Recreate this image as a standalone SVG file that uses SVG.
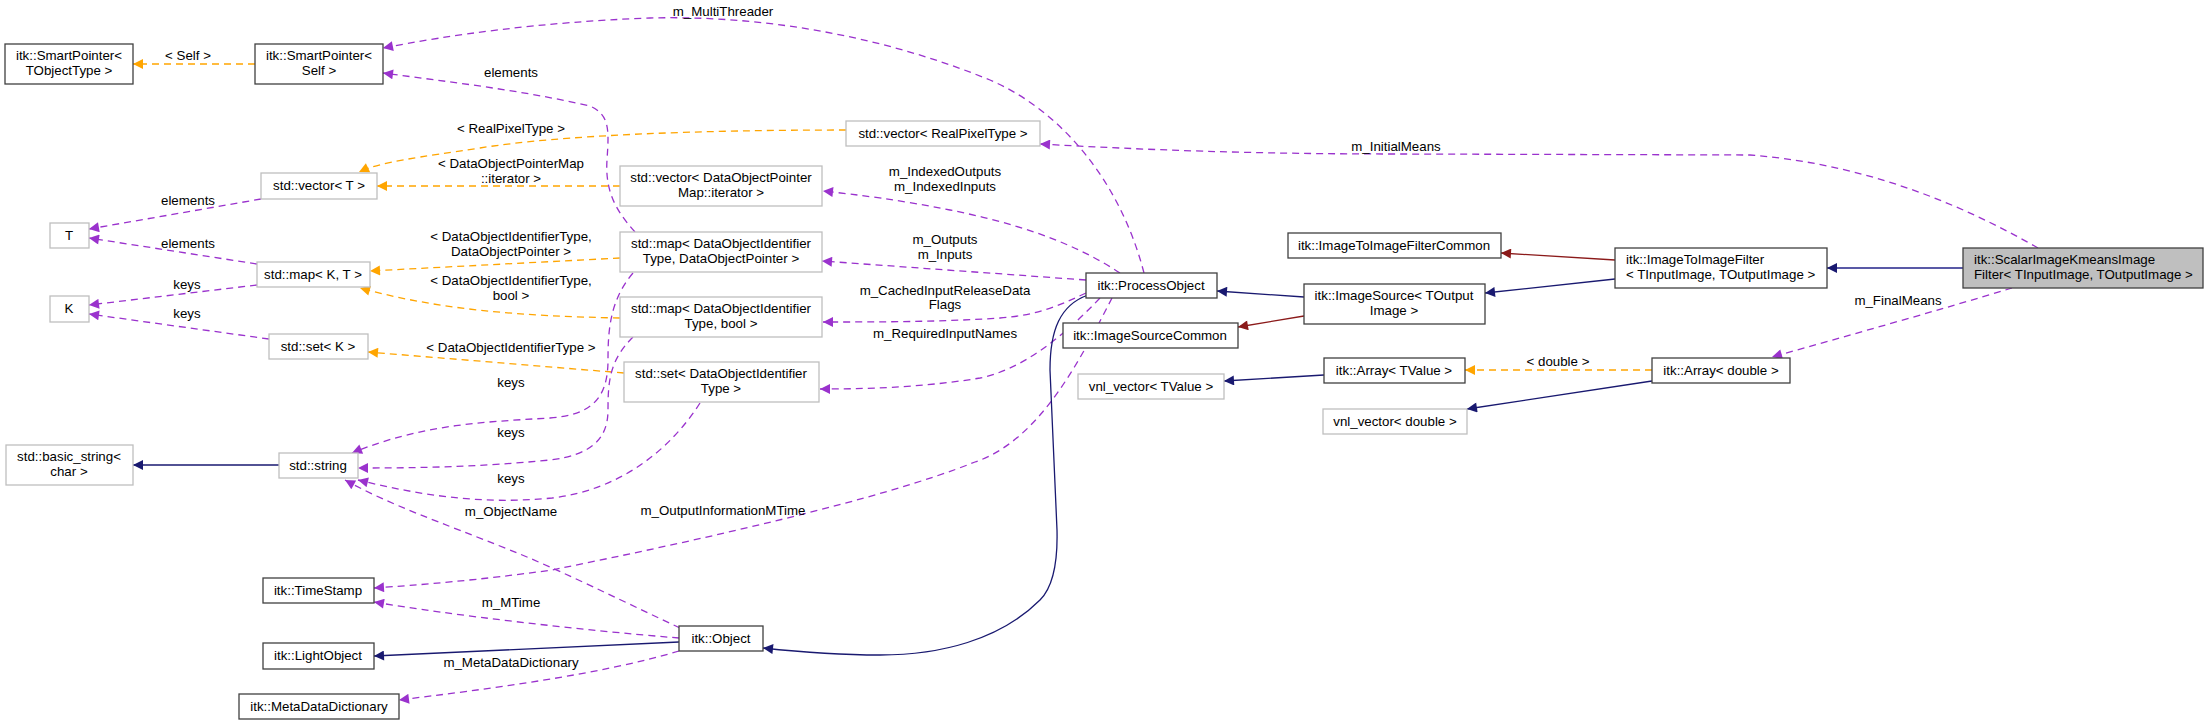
<svg xmlns="http://www.w3.org/2000/svg" width="2208" height="725" viewBox="0 0 2208 725">
<style>
text{font-family:"Liberation Sans",Arial,sans-serif;font-size:13.3px;fill:#000;text-anchor:middle}
.b{fill:#fff;stroke:#404040;stroke-width:1.3}
.g{fill:#fff;stroke:#bfbfbf;stroke-width:1.3}
.s{fill:#bfbfbf;stroke:#404040;stroke-width:1.3}
.p{fill:none;stroke:#9a32cd;stroke-width:1.3;stroke-dasharray:7,5;marker-end:url(#mp)}
.o{fill:none;stroke:#ffa500;stroke-width:1.3;stroke-dasharray:7,5;marker-end:url(#mo)}
.n{fill:none;stroke:#191970;stroke-width:1.3;marker-end:url(#mn)}
.r{fill:none;stroke:#8b1a1a;stroke-width:1.3;marker-end:url(#mr)}
</style>
<defs>
<marker id="mp" viewBox="0 0 10 10" refX="10" refY="5" markerWidth="13" markerHeight="10" markerUnits="userSpaceOnUse" orient="auto"><path d="M0,0L10,5L0,10z" fill="#9a32cd"/></marker>
<marker id="mo" viewBox="0 0 10 10" refX="10" refY="5" markerWidth="13" markerHeight="10" markerUnits="userSpaceOnUse" orient="auto"><path d="M0,0L10,5L0,10z" fill="#ffa500"/></marker>
<marker id="mn" viewBox="0 0 10 10" refX="10" refY="5" markerWidth="13" markerHeight="10" markerUnits="userSpaceOnUse" orient="auto"><path d="M0,0L10,5L0,10z" fill="#191970"/></marker>
<marker id="mr" viewBox="0 0 10 10" refX="10" refY="5" markerWidth="13" markerHeight="10" markerUnits="userSpaceOnUse" orient="auto"><path d="M0,0L10,5L0,10z" fill="#8b1a1a"/></marker>
</defs>
<rect width="2208" height="725" fill="#fff"/>
<g id="edges">
<path class="o" d="M255,64 L133,64"/><text x="188" y="60">&lt; Self &gt;</text>
<path class="p" d="M1144,273 C1120,180 1060,110 990,80 C880,35 760,15 650,18 C540,22 450,35 383,48"/><text x="723" y="16">m_MultiThreader</text>
<path class="p" d="M635,232 C615,210 605,190 607,160 C609,130 610,115 590,106 C520,90 450,82 383,73"/><text x="511" y="77">elements</text>
<path class="o" d="M846,130 C700,130 560,135 480,148 C420,157 380,162 359,172"/><text x="511" y="133">&lt; RealPixelType &gt;</text>
<path class="o" d="M620,186 L377,186"/><text x="511" y="168">&lt; DataObjectPointerMap</text><text x="511" y="183">::iterator &gt;</text>
<path class="p" d="M261,199 L89,229"/><text x="188" y="205">elements</text>
<path class="p" d="M257,264 L89,238"/><text x="188" y="248">elements</text>
<path class="p" d="M257,285 L89,305"/><text x="187" y="289">keys</text>
<path class="p" d="M269,339 L89,314"/><text x="187" y="318">keys</text>
<path class="o" d="M620,258 L370,271"/><text x="511" y="241">&lt; DataObjectIdentifierType,</text><text x="511" y="256">DataObjectPointer &gt;</text>
<path class="o" d="M620,318 C520,316 440,310 360,288"/><text x="511" y="285">&lt; DataObjectIdentifierType,</text><text x="511" y="300">bool &gt;</text>
<path class="o" d="M624,373 L368,352"/><text x="511" y="352">&lt; DataObjectIdentifierType &gt;</text>
<path class="p" d="M1120,273 C1070,240 1010,222 950,210 C900,200 860,195 823,191"/><text x="945" y="176">m_IndexedOutputs</text><text x="945" y="191">m_IndexedInputs</text>
<path class="p" d="M1086,280 L822,261"/><text x="945" y="244">m_Outputs</text><text x="945" y="259">m_Inputs</text>
<path class="p" d="M1086,293 C1060,305 1040,315 1000,318 C940,322 880,322 823,322"/><text x="945" y="295">m_CachedInputReleaseData</text><text x="945" y="309">Flags</text>
<path class="p" d="M1100,298 C1060,340 1020,370 980,378 C920,388 860,389 820,389"/><text x="945" y="338">m_RequiredInputNames</text>
<path class="p" d="M1112,298 C1080,360 1040,440 975,462 C880,500 700,540 552,570 C480,580 420,585 374,588"/><text x="723" y="515">m_OutputInformationMTime</text>
<path class="n" d="M1088,295 C1060,305 1050,330 1050,370 L1057,530 C1058,570 1050,590 1040,600 C1000,640 940,655 880,655 C840,655 800,652 763,648"/>
<path class="n" d="M279,465 L133,465"/>
<path class="p" d="M633,273 C610,300 608,330 608,360 C608,400 590,415 550,418 C480,422 420,425 352,453"/><text x="511" y="387">keys</text>
<path class="p" d="M633,337 C610,360 608,380 608,410 C608,440 590,455 550,460 C480,467 420,468 358,468"/><text x="511" y="437">keys</text>
<path class="p" d="M700,403 C670,450 620,490 552,498 C480,505 420,495 358,480"/><text x="511" y="483">keys</text>
<path class="p" d="M680,628 C620,600 560,570 510,550 C440,522 390,505 345,480"/><text x="511" y="516">m_ObjectName</text>
<path class="p" d="M679,638 C580,630 450,615 374,602"/><text x="511" y="607">m_MTime</text>
<path class="n" d="M679,642 L374,656"/>
<path class="p" d="M679,651 C600,675 480,690 399,700"/><text x="511" y="667">m_MetaDataDictionary</text>
<path class="n" d="M1304,297 L1217,291"/>
<path class="r" d="M1304,316 L1238,327"/>
<path class="r" d="M1615,260 L1501,253"/>
<path class="n" d="M1615,279 L1485,293"/>
<path class="n" d="M1963,268 L1827,268" style="stroke:#5959a6;stroke-width:2"/>
<path class="p" d="M2038,248 C1980,215 1880,165 1750,155 L1400,154 C1250,154 1150,150 1040,144"/><text x="1396" y="151">m_InitialMeans</text>
<path class="p" d="M2012,288 C1940,310 1850,335 1772,357"/><text x="1898" y="305">m_FinalMeans</text>
<path class="o" d="M1652,370 L1465,370"/><text x="1558" y="366">&lt; double &gt;</text>
<path class="n" d="M1324,375 L1224,381"/>
<path class="n" d="M1652,381 L1467,409"/>
</g>
<g id="n1"><rect class="b" x="5" y="44" width="128" height="40"/><text x="69" y="60">itk::SmartPointer&lt;</text><text x="69" y="75">TObjectType &gt;</text></g>
<g id="n2"><rect class="b" x="255" y="44" width="128" height="40"/><text x="319" y="60">itk::SmartPointer&lt;</text><text x="319" y="75">Self &gt;</text></g>
<g id="n3"><rect class="g" x="261" y="173" width="116" height="26"/><text x="319" y="190">std::vector&lt; T &gt;</text></g>
<g id="n4"><rect class="g" x="50" y="223" width="39" height="25"/><text x="69" y="240">T</text></g>
<g id="n5"><rect class="g" x="257" y="262" width="113" height="25"/><text x="313" y="279">std::map&lt; K, T &gt;</text></g>
<g id="n6"><rect class="g" x="50" y="296" width="39" height="26"/><text x="69" y="313">K</text></g>
<g id="n7"><rect class="g" x="269" y="334" width="99" height="25"/><text x="318" y="351">std::set&lt; K &gt;</text></g>
<g id="n8"><rect class="g" x="846" y="121" width="194" height="25"/><text x="943" y="138">std::vector&lt; RealPixelType &gt;</text></g>
<g id="n9"><rect class="g" x="620" y="166" width="202" height="40"/><text x="721" y="182">std::vector&lt; DataObjectPointer</text><text x="721" y="197">Map::iterator &gt;</text></g>
<g id="n10"><rect class="g" x="620" y="232" width="202" height="40"/><text x="721" y="248">std::map&lt; DataObjectIdentifier</text><text x="721" y="263">Type, DataObjectPointer &gt;</text></g>
<g id="n11"><rect class="g" x="620" y="297" width="202" height="40"/><text x="721" y="313">std::map&lt; DataObjectIdentifier</text><text x="721" y="328">Type, bool &gt;</text></g>
<g id="n12"><rect class="g" x="624" y="362" width="195" height="40"/><text x="721" y="378">std::set&lt; DataObjectIdentifier</text><text x="721" y="393">Type &gt;</text></g>
<g id="n13"><rect class="b" x="1086" y="273" width="131" height="25"/><text x="1151" y="290">itk::ProcessObject</text></g>
<g id="n14"><rect class="b" x="1063" y="323" width="175" height="25"/><text x="1150" y="340">itk::ImageSourceCommon</text></g>
<g id="n15"><rect class="b" x="1304" y="284" width="181" height="40"/><text x="1394" y="300">itk::ImageSource&lt; TOutput</text><text x="1394" y="315">Image &gt;</text></g>
<g id="n16"><rect class="b" x="1288" y="233" width="213" height="25"/><text x="1394" y="250">itk::ImageToImageFilterCommon</text></g>
<g id="n17"><rect class="b" x="1615" y="248" width="212" height="40"/><text x="1626" y="264" style="text-anchor:start">itk::ImageToImageFilter</text><text x="1626" y="279" style="text-anchor:start">&lt; TInputImage, TOutputImage &gt;</text></g>
<g id="n18"><rect class="s" x="1963" y="248" width="240" height="40"/><text x="1974" y="264" style="text-anchor:start">itk::ScalarImageKmeansImage</text><text x="1974" y="279" style="text-anchor:start">Filter&lt; TInputImage, TOutputImage &gt;</text></g>
<g id="n19"><rect class="b" x="1652" y="358" width="138" height="25"/><text x="1721" y="375">itk::Array&lt; double &gt;</text></g>
<g id="n20"><rect class="b" x="1324" y="358" width="141" height="25"/><text x="1394" y="375">itk::Array&lt; TValue &gt;</text></g>
<g id="n21"><rect class="g" x="1078" y="374" width="146" height="25"/><text x="1151" y="391">vnl_vector&lt; TValue &gt;</text></g>
<g id="n22"><rect class="g" x="1323" y="409" width="144" height="25"/><text x="1395" y="426">vnl_vector&lt; double &gt;</text></g>
<g id="n23"><rect class="g" x="6" y="445" width="127" height="40"/><text x="69" y="461">std::basic_string&lt;</text><text x="69" y="476">char &gt;</text></g>
<g id="n24"><rect class="g" x="279" y="453" width="79" height="25"/><text x="318" y="470">std::string</text></g>
<g id="n25"><rect class="b" x="263" y="578" width="111" height="25"/><text x="318" y="595">itk::TimeStamp</text></g>
<g id="n26"><rect class="b" x="263" y="643" width="111" height="26"/><text x="318" y="660">itk::LightObject</text></g>
<g id="n27"><rect class="b" x="239" y="694" width="160" height="25"/><text x="319" y="711">itk::MetaDataDictionary</text></g>
<g id="n28"><rect class="b" x="679" y="626" width="84" height="25"/><text x="721" y="643">itk::Object</text></g>
</svg>
